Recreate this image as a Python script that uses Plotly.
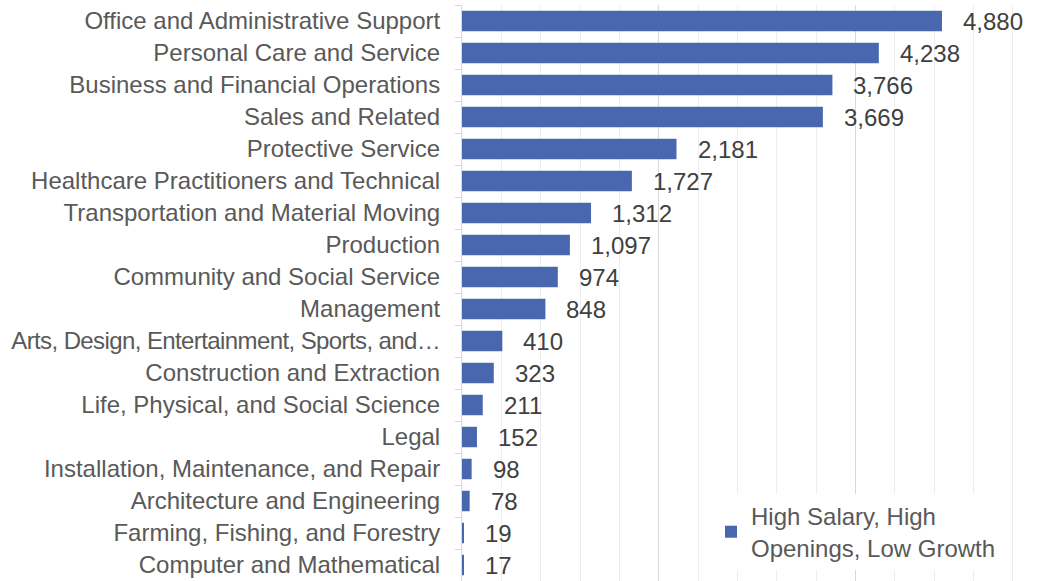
import plotly.graph_objects as go

categories = [
    "Office and Administrative Support",
    "Personal Care and Service",
    "Business and Financial Operations",
    "Sales and Related",
    "Protective Service",
    "Healthcare Practitioners and Technical",
    "Transportation and Material Moving",
    "Production",
    "Community and Social Service",
    "Management",
    "Arts, Design, Entertainment, Sports, and…",
    "Construction and Extraction",
    "Life, Physical, and Social Science",
    "Legal",
    "Installation, Maintenance, and Repair",
    "Architecture and Engineering",
    "Farming, Fishing, and Forestry",
    "Computer and Mathematical",
]
values = [4880, 4238, 3766, 3669, 2181, 1727, 1312, 1097, 974, 848,
          410, 323, 211, 152, 98, 78, 19, 17]
series_name = "High Salary, High<br>Openings, Low Growth"

FONT = "Liberation Sans, Arial, sans-serif"
BAR_COLOR = "#4967AE"

ticktext = []
for c in categories:
    if c.endswith("…"):
        ticktext.append('<span style="letter-spacing:-0.6px">' + c + "</span>")
    else:
        ticktext.append(c)

fig = go.Figure()
fig.add_trace(go.Bar(
    x=values, y=categories, orientation="h",
    marker=dict(color=BAR_COLOR, line=dict(width=0)),
    name=series_name, showlegend=True,
))

annotations = []
for c, v in zip(categories, values):
    annotations.append(dict(
        x=v, y=c, xref="x", yref="y", text=f"{v:,}", showarrow=False,
        xanchor="left", yanchor="middle", xshift=19,
        font=dict(family=FONT, size=24, color="#404040"),
    ))

fig.update_layout(
    width=1048, height=581,
    margin=dict(l=462, r=0, t=5, b=0, autoexpand=False),
    paper_bgcolor="white", plot_bgcolor="white",
    bargap=0.36,
    font=dict(family=FONT, size=24, color="#595959"),
    annotations=annotations,
    showlegend=True,
    legend=dict(
        x=(711 - 462) / 586, xanchor="left",
        y=(581 - 494) / 576, yanchor="top",
        bgcolor="white", borderwidth=0,
        font=dict(family=FONT, size=24, color="#595959"),
    ),
    shapes=[dict(
        type="rect", xref="paper", yref="paper",
        x0=(698 - 462) / 586, x1=1.0, y0=-0.01, y1=(581 - 501) / 576,
        fillcolor="white", line=dict(width=0), layer="between",
    )],
)
fig.update_xaxes(
    range=[0, 5958], showticklabels=False, ticks="",
    showgrid=True, dtick=2000, gridcolor="#D9D9D9", gridwidth=1,
    minor=dict(dtick=400, showgrid=True, gridcolor="#EDEDED", gridwidth=1),
    zeroline=False, showline=False, automargin=False,
)
fig.update_yaxes(
    autorange="reversed", tickmode="array", tickvals=categories, ticktext=ticktext,
    showline=True, linecolor="#D9D9D9", linewidth=1,
    ticks="outside", tickson="boundaries", ticklen=6, tickcolor="#D9D9D9",
    ticklabelstandoff=16, showgrid=False, automargin=False,
    tickfont=dict(family=FONT, size=24, color="#595959"),
)

fig.write_html(
    "out.html",
    config={"displayModeBar": False},
    post_script="document.body.style.margin='0px';document.body.style.overflow='hidden';",
)
